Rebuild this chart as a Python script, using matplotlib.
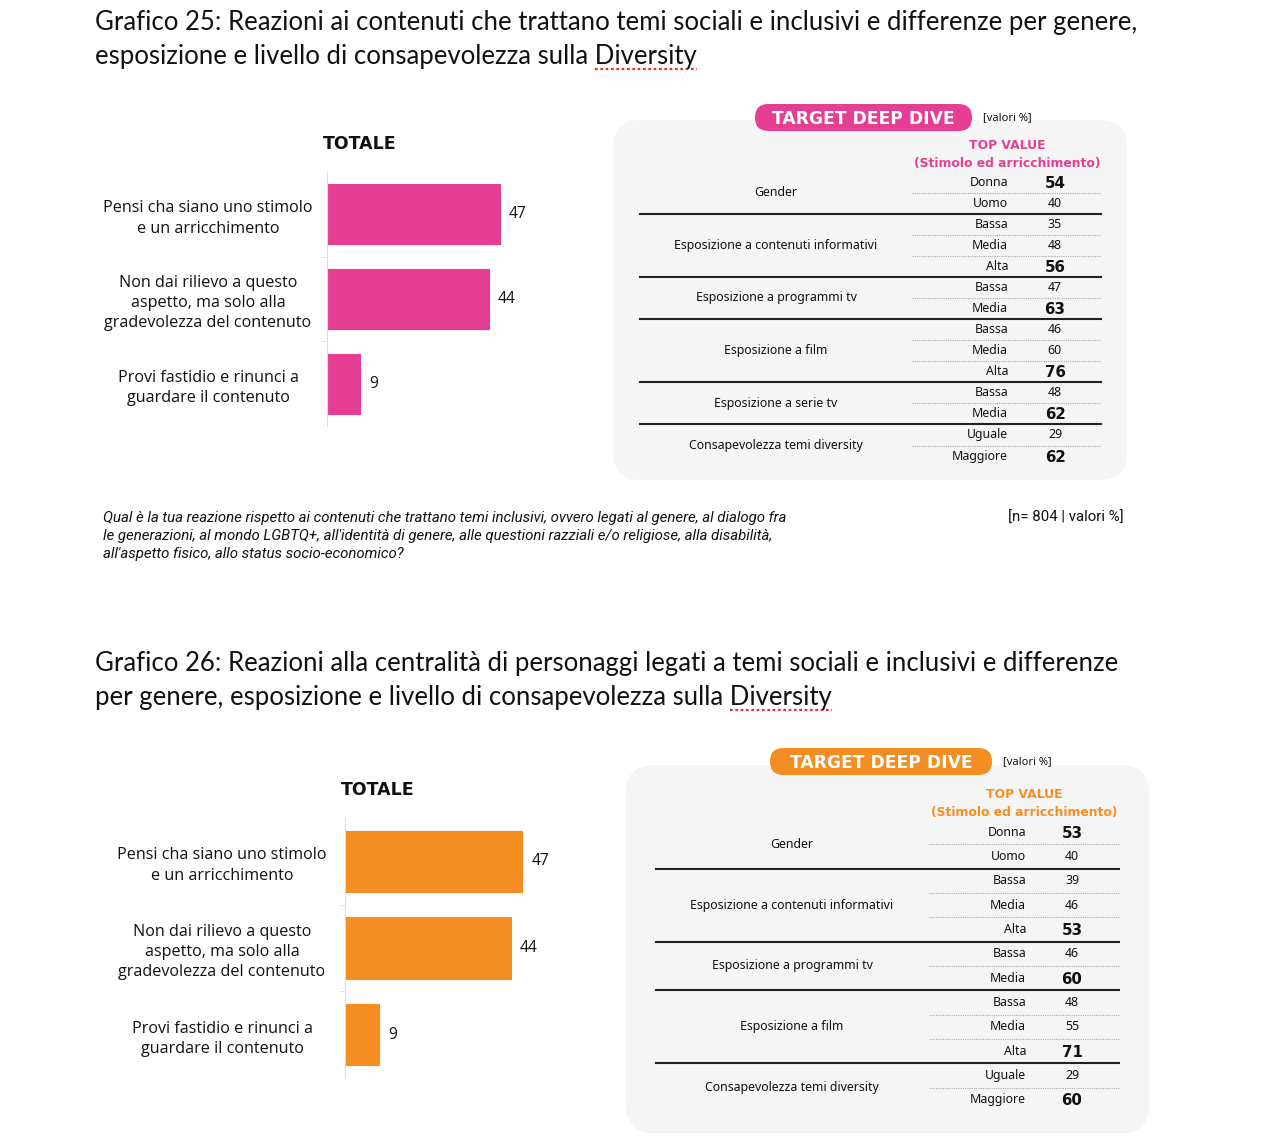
import numpy as np
import matplotlib.pyplot as plt
from matplotlib.patches import FancyBboxPatch

W, H = 1280, 1138
pink = "#E63E93"
orange = "#F58E22"

title_25 = ["Grafico 25: Reazioni ai contenuti che trattano temi sociali e inclusivi e differenze per genere,",
            "esposizione e livello di consapevolezza sulla Diversity"]
title_26 = ["Grafico 26: Reazioni alla centralità di personaggi legati a temi sociali e inclusivi e differenze",
            "per genere, esposizione e livello di consapevolezza sulla Diversity"]

answers = ["Pensi cha siano uno stimolo\ne un arricchimento",
           "Non dai rilievo a questo\naspetto, ma solo alla\ngradevolezza del contenuto",
           "Provi fastidio e rinunci a\nguardare il contenuto"]
totale_25 = [47, 44, 9]
totale_26 = [47, 44, 9]

groups_25 = ["Gender", "Esposizione a contenuti informativi", "Esposizione a programmi tv",
             "Esposizione a film", "Esposizione a serie tv", "Consapevolezza temi diversity"]
levels_25 = [["Donna", "Uomo"], ["Bassa", "Media", "Alta"], ["Bassa", "Media"],
             ["Bassa", "Media", "Alta"], ["Bassa", "Media"], ["Uguale", "Maggiore"]]
values_25 = [[54, 40], [35, 48, 56], [47, 63], [46, 60, 76], [48, 62], [29, 62]]

groups_26 = ["Gender", "Esposizione a contenuti informativi", "Esposizione a programmi tv",
             "Esposizione a film", "Consapevolezza temi diversity"]
levels_26 = [["Donna", "Uomo"], ["Bassa", "Media", "Alta"], ["Bassa", "Media"],
             ["Bassa", "Media", "Alta"], ["Uguale", "Maggiore"]]
values_26 = [[53, 40], [39, 46, 53], [46, 60], [48, 55, 71], [29, 60]]

question = ("Qual è la tua reazione rispetto ai contenuti che trattano temi inclusivi, ovvero legati al genere, al dialogo fra\n"
            "le generazioni, al mondo LGBTQ+, all'identità di genere, alle questioni razziali e/o religiose, alla disabilità,\n"
            "all'aspetto fisico, allo status socio-economico?")
base_note = "[n= 804 | valori %]"

fig = plt.figure(figsize=(W / 100, H / 100), dpi=100)
ax0 = fig.add_axes([0, 0, 1, 1])
ax0.set_xlim(0, W)
ax0.set_ylim(H, 0)
ax0.axis("off")

TITLE_FONT = dict(family="Lato", fontsize=18.5, color="#111111")
LABEL_FONT = "Open Sans"
TABLE_FONT = "Noto Sans"
TS = 8.9


def title(lines, x, y0, y1):
    ax0.text(x, y0, lines[0], va="center", **TITLE_FONT)
    t = ax0.text(x, y1, lines[1], va="center", **TITLE_FONT)
    fig.canvas.draw()
    r = fig.canvas.get_renderer()
    bb = t.get_window_extent(r)
    tmp = ax0.text(0, 0, "Diversity", **TITLE_FONT)
    w = tmp.get_window_extent(r).width
    tmp.remove()
    ax0.plot([bb.x1 - w, bb.x1], [y1 + 13, y1 + 13], color="#e0302a", lw=1.6,
             ls=(0, (1.2, 1.2)))


def bar_panel(x0, y0, y1, ppu, values, color, label_x, head_x):
    w = 100 * ppu
    ax = fig.add_axes([x0 / W, 1 - y1 / H, w / W, (y1 - y0) / H])
    pos = np.arange(len(values))
    ax.barh(pos, values, height=0.71, color=color, edgecolor=color, lw=0.8)
    ax.set_xlim(0, 100)
    ax.set_ylim(len(values) - 0.5, -0.5)
    for sp in ["top", "right", "bottom"]:
        ax.spines[sp].set_visible(False)
    ax.spines["left"].set_color("#dddddd")
    ax.set_xticks([])
    ax.set_yticks(pos)
    ax.set_yticklabels(answers, ha="center", multialignment="center",
                       fontsize=11.6, family=LABEL_FONT, color="#111111",
                       linespacing=1.35)
    ax.tick_params(axis="y", length=0, pad=(x0 - label_x) * 0.72)
    ax.set_yticks(pos[:-1] + 0.5, minor=True)
    ax.tick_params(axis="y", which="minor", length=4, color="#dddddd")
    for p, v in zip(pos, values):
        ax.annotate(str(v), (v, p), xytext=(6.5, 0), textcoords="offset points",
                    va="center", fontsize=11.2, family=LABEL_FONT, color="#111111")
    ax.patch.set_alpha(0)
    ax0.text(head_x, y0 - 28, "TOTALE", ha="center", va="center", fontsize=12.5,
             fontweight="bold", family="DejaVu Sans", color="#111111")


def deep_dive(box, pill, color, groups, levels, values, row0, dy,
              x_group, x_level, x_val, x_solid, x_dot, x_end, head_x, head_y):
    bx0, by0, bx1, by1 = box
    ax0.add_patch(FancyBboxPatch((bx0, by0), bx1 - bx0, by1 - by0,
                                 boxstyle="round,pad=0,rounding_size=28",
                                 fc="#f5f5f5", ec="none"))
    px0, py0, px1, py1 = pill
    ax0.add_patch(FancyBboxPatch((px0, py0), px1 - px0, py1 - py0,
                                 boxstyle="round,pad=0,rounding_size=13.5",
                                 fc=color, ec="none"))
    ax0.text((px0 + px1) / 2, (py0 + py1) / 2 + 1, "TARGET DEEP DIVE", ha="center",
             va="center", color="white", fontsize=12.3, fontweight="bold",
             family="DejaVu Sans")
    ax0.text(px1 + 11, (py0 + py1) / 2, "[valori %]", va="center", fontsize=8,
             family=TABLE_FONT, color="#111111")
    ax0.text(head_x, head_y, "TOP VALUE", ha="center", va="center", color=color,
             fontsize=8.9, fontweight="bold", family="DejaVu Sans")
    ax0.text(head_x, head_y + 18, "(Stimolo ed arricchimento)", ha="center",
             va="center", color=color, fontsize=8.9, fontweight="bold",
             family="DejaVu Sans")
    row = 0
    for gi, (g, levs, vals) in enumerate(zip(groups, levels, values)):
        n = len(levs)
        ys = row0 + dy * (row + np.arange(n))
        ax0.text(x_group, ys.mean(), g, ha="center", va="center", fontsize=TS,
                 family=TABLE_FONT, color="#111111")
        top = max(vals)
        for k, (lv, v, y) in enumerate(zip(levs, vals, ys)):
            ax0.text(x_level, y, lv, ha="right", va="center", fontsize=TS,
                     family=TABLE_FONT, color="#111111")
            if v == top:
                ax0.text(x_val, y + 1, str(v), ha="center", va="center", fontsize=10.8,
                         fontweight="bold", family="DejaVu Sans", color="#111111")
            else:
                ax0.text(x_val, y, str(v), ha="center", va="center", fontsize=TS,
                         family=TABLE_FONT, color="#111111")
            if k < n - 1:
                ax0.plot([x_dot, x_end], [y + dy / 2] * 2, color="#aaaaaa", lw=0.8,
                         ls=(0, (1, 1)))
        row += n
        if gi < len(groups) - 1:
            yl = row0 + dy * (row - 0.5)
            ax0.plot([x_solid, x_end], [yl, yl], color="#222222", lw=1.5)


# ---- Grafico 25
title(title_25, 95, 22, 56)
bar_panel(327, 172, 426, 3.68, totale_25, pink, 208, 360)
deep_dive((613, 120, 1127, 480), (755, 104, 972, 131), pink, groups_25, levels_25,
          values_25, 182, 21.08, 776, 1008, 1055, 640, 912, 1101, 1007, 145)
ax0.text(103, 536, question, va="center", fontsize=10.8, style="italic",
         family="Roboto", color="#111111", linespacing=1.34)
ax0.text(1124, 518, base_note, ha="right", va="center", fontsize=10.8,
         family="Roboto", color="#111111")

# ---- Grafico 26
title(title_26, 95, 663, 697)
bar_panel(345, 818, 1078, 3.77, totale_26, orange, 222, 378)
deep_dive((626, 765, 1149, 1133), (770, 748, 992, 775), orange, groups_26, levels_26,
          values_26, 832, 24.36, 792, 1026, 1072, 656, 929, 1119, 1024, 794)

fig.savefig("out.png", dpi=100)
